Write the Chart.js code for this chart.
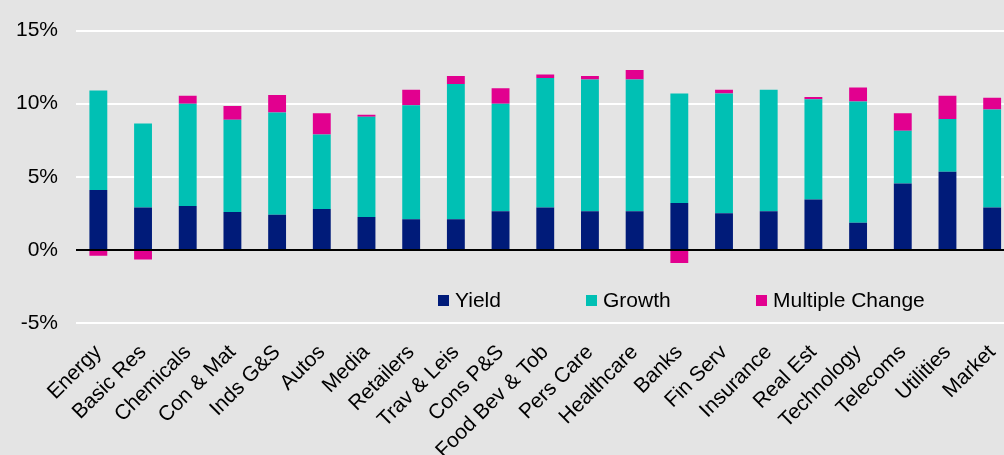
<!DOCTYPE html>
<html>
<head>
<meta charset="utf-8">
<script src="https://cdn.jsdelivr.net/npm/chart.js@4/dist/chart.umd.min.js"></script>
<style>
  html, body { margin: 0; padding: 0; background: #e4e4e4; overflow: hidden; }
  #wrap { width: 1019px; height: 455px; }
</style>
</head>
<body>
<div id="wrap"><canvas id="returns"></canvas></div>
<script>
// Sectors along the x axis
const sectors = ['Energy', 'Basic Res', 'Chemicals', 'Con & Mat', 'Inds G&S', 'Autos', 'Media',
  'Retailers', 'Trav & Leis', 'Cons P&S', 'Food Bev & Tob', 'Pers Care', 'Healthcare', 'Banks',
  'Fin Serv', 'Insurance', 'Real Est', 'Technology', 'Telecoms', 'Utilities', 'Market'];

// Return components, in percent
const yieldPct  = [4.1, 2.9, 3.0, 2.6, 2.4, 2.8, 2.25, 2.1, 2.1, 2.65, 2.9, 2.65, 2.65, 3.2, 2.5, 2.65, 3.45, 1.85, 4.55, 5.35, 2.9];
const growthPct = [6.8, 5.75, 7.0, 6.3, 7.0, 5.1, 6.85, 7.8, 9.25, 7.35, 8.85, 9.0, 9.0, 7.5, 8.2, 8.3, 6.85, 8.3, 3.6, 3.6, 6.7];
const multPct   = [-0.4, -0.65, 0.55, 0.95, 1.2, 1.45, 0.15, 1.05, 0.55, 1.05, 0.25, 0.25, 0.65, -0.9, 0.25, 0, 0.15, 0.95, 1.2, 1.6, 0.8];

// Axis ticks
const yMin = -5, yMax = 15, yStep = 5;

const NAVY = '#001b79', TEAL = '#00c0b4', PINK = '#e2008f';
const FONT = "'Liberation Sans', Arial, sans-serif";

// black zero line on top of the bars
const zeroLine = {
  id: 'zeroLine',
  afterDatasetsDraw(chart) {
    const { ctx, chartArea, scales } = chart;
    const y = Math.round(scales.y.getPixelForValue(0));
    ctx.save();
    ctx.strokeStyle = '#000';
    ctx.lineWidth = 2;
    ctx.beginPath();
    ctx.moveTo(chartArea.left, y);
    ctx.lineTo(chartArea.right, y);
    ctx.stroke();
    ctx.restore();
  }
};

// legend sits inside the plot, below the zero line
const innerLegend = {
  id: 'innerLegend',
  afterDraw(chart) {
    const { ctx } = chart;
    const xs = [438, 586, 756];
    const top = 295, box = 11;
    ctx.save();
    ctx.font = '21px ' + FONT;
    ctx.textBaseline = 'middle';
    chart.data.datasets.forEach((ds, i) => {
      ctx.fillStyle = ds.backgroundColor;
      ctx.fillRect(xs[i], top, box, box);
      ctx.fillStyle = '#000';
      ctx.fillText(ds.label, xs[i] + box + 6, top + box / 2 + 1);
    });
    ctx.restore();
  }
};

new Chart(document.getElementById('returns'), {
  type: 'bar',
  data: {
    labels: sectors,
    datasets: [
      { label: 'Yield', data: yieldPct, backgroundColor: NAVY },
      { label: 'Growth', data: growthPct, backgroundColor: TEAL },
      { label: 'Multiple Change', data: multPct, backgroundColor: PINK }
    ]
  },
  options: {
    responsive: true,
    maintainAspectRatio: false,
    animation: false,
    layout: { padding: { top: 25, right: 1, left: 0, bottom: 0 } },
    datasets: { bar: { categoryPercentage: 1, barPercentage: 0.4 } },
    plugins: {
      legend: { display: false },
      tooltip: { enabled: false }
    },
    scales: {
      x: {
        stacked: true,
        grid: { display: false },
        border: { display: false },
        ticks: {
          color: '#000',
          font: { family: FONT, size: 21 },
          minRotation: 45,
          maxRotation: 45,
          autoSkip: false,
          padding: 9
        },
        afterFit(scale) { scale.height = 132; }
      },
      y: {
        stacked: true,
        min: yMin,
        max: yMax,
        border: { display: false },
        grid: { color: '#ffffff', lineWidth: 2, drawTicks: false },
        ticks: {
          stepSize: yStep,
          color: '#000',
          font: { family: FONT, size: 21 },
          padding: 18,
          callback: v => v + '%'
        },
        afterFit(scale) { scale.width = 76; }
      }
    }
  },
  plugins: [zeroLine, innerLegend]
});
</script>
</body>
</html>
